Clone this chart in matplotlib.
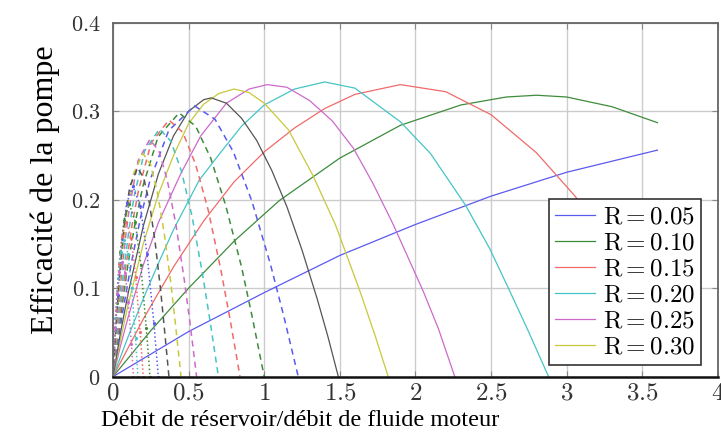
import matplotlib
matplotlib.use("Agg")
from matplotlib import pyplot as plt

plt.rcParams['mathtext.fontset'] = 'cm'

# solid curves, R = 0.05 ... 0.35
x_r05 = [0, 0.5, 1.0, 1.5, 2.0, 2.5, 3.0, 3.6]
y_r05 = [0, 0.051, 0.095, 0.137, 0.172, 0.204, 0.231, 0.256]

x_r10 = [0, 0.25, 0.5, 0.8, 1.1, 1.5, 1.9, 2.3, 2.6, 2.8, 3.0, 3.3, 3.6]
y_r10 = [0, 0.052, 0.100, 0.153, 0.199, 0.247, 0.284, 0.307, 0.316, 0.318, 0.316, 0.305, 0.287]

x_r15 = [0, 0.2, 0.4, 0.6, 0.8, 1.0, 1.2, 1.4, 1.6, 1.9, 2.2, 2.5, 2.8, 3.05, 3.3, 3.5, 3.7]
y_r15 = [0, 0.065, 0.124, 0.176, 0.220, 0.254, 0.281, 0.303, 0.319, 0.330, 0.322, 0.296, 0.253, 0.205, 0.150, 0.096, 0.040]

x_r20 = [0, 0.1, 0.2, 0.3, 0.4, 0.57, 0.71, 0.85, 1.0, 1.2, 1.4, 1.6, 1.9, 2.1, 2.33, 2.49, 2.62, 2.75, 2.88]
y_r20 = [0, 0.045, 0.088, 0.128, 0.166, 0.222, 0.253, 0.283, 0.307, 0.325, 0.333, 0.326, 0.288, 0.252, 0.194, 0.145, 0.098, 0.050, 0]

x_r25 = [0, 0.05, 0.1, 0.2, 0.3, 0.45, 0.58, 0.75, 0.9, 1.02, 1.15, 1.3, 1.45, 1.59, 1.72, 1.85, 1.95, 2.05, 2.15, 2.26]
y_r25 = [0, 0.035, 0.067, 0.126, 0.174, 0.230, 0.272, 0.309, 0.325, 0.330, 0.327, 0.312, 0.289, 0.258, 0.218, 0.173, 0.135, 0.097, 0.055, 0]

x_r30 = [0, 0.05, 0.1, 0.2, 0.3, 0.4, 0.5, 0.6, 0.7, 0.8, 0.9, 1.0, 1.16, 1.32, 1.47, 1.63, 1.73, 1.82]
y_r30 = [0, 0.042, 0.081, 0.150, 0.206, 0.250, 0.286, 0.308, 0.320, 0.325, 0.321, 0.309, 0.279, 0.228, 0.172, 0.098, 0.048, 0]

x_r35 = [0, 0.05, 0.1, 0.2, 0.3, 0.4, 0.5, 0.6, 0.65, 0.75, 0.85, 0.95, 1.05, 1.15, 1.25, 1.35, 1.42, 1.49]
y_r35 = [0, 0.050, 0.094, 0.170, 0.229, 0.272, 0.300, 0.313, 0.315, 0.309, 0.292, 0.267, 0.233, 0.192, 0.143, 0.088, 0.046, 0]

# dashed curves, R = 0.40 ... 0.70
x_r40 = [0, 0.061, 0.123, 0.184, 0.245, 0.368, 0.539, 0.674, 0.796, 0.919, 1.041, 1.127, 1.225]
y_r40 = [0, 0.070, 0.130, 0.181, 0.222, 0.278, 0.306, 0.291, 0.254, 0.198, 0.127, 0.070, 0]

x_r45 = [0, 0.050, 0.099, 0.149, 0.199, 0.298, 0.437, 0.547, 0.646, 0.746, 0.850, 0.920, 1.0]
y_r45 = [0, 0.068, 0.127, 0.176, 0.216, 0.271, 0.298, 0.283, 0.247, 0.193, 0.124, 0.068, 0]

x_r50 = [0, 0.042, 0.084, 0.126, 0.168, 0.252, 0.370, 0.462, 0.546, 0.630, 0.714, 0.773, 0.84]
y_r50 = [0, 0.066, 0.124, 0.171, 0.210, 0.264, 0.290, 0.276, 0.240, 0.188, 0.120, 0.066, 0]

x_r55 = [0, 0.035, 0.070, 0.105, 0.139, 0.209, 0.307, 0.383, 0.453, 0.523, 0.592, 0.641, 0.697]
y_r55 = [0, 0.064, 0.119, 0.165, 0.203, 0.255, 0.280, 0.266, 0.232, 0.181, 0.116, 0.064, 0]

x_r60 = [0, 0.028, 0.055, 0.083, 0.111, 0.166, 0.243, 0.304, 0.359, 0.415, 0.470, 0.509, 0.553]
y_r60 = [0, 0.061, 0.114, 0.158, 0.194, 0.244, 0.268, 0.255, 0.222, 0.173, 0.111, 0.061, 0]

x_r65 = [0, 0.023, 0.045, 0.068, 0.090, 0.135, 0.198, 0.248, 0.293, 0.338, 0.383, 0.414, 0.45]
y_r65 = [0, 0.058, 0.107, 0.149, 0.183, 0.229, 0.252, 0.240, 0.209, 0.163, 0.105, 0.058, 0]

x_r70 = [0, 0.019, 0.037, 0.056, 0.074, 0.111, 0.163, 0.204, 0.241, 0.278, 0.315, 0.340, 0.37]
y_r70 = [0, 0.054, 0.101, 0.139, 0.171, 0.215, 0.236, 0.224, 0.196, 0.153, 0.098, 0.054, 0]

# dotted curves, R = 0.75 ... 0.95
x_r75 = [0, 0.03, 0.06, 0.09, 0.132, 0.18, 0.225, 0.27, 0.30]
y_r75 = [0, 0.092, 0.156, 0.196, 0.215, 0.193, 0.139, 0.061, 0]

x_r80 = [0, 0.0245, 0.049, 0.0735, 0.108, 0.147, 0.184, 0.22, 0.245]
y_r80 = [0, 0.083, 0.141, 0.177, 0.195, 0.175, 0.126, 0.055, 0]

x_r85 = [0, 0.02, 0.04, 0.06, 0.088, 0.12, 0.15, 0.18, 0.20]
y_r85 = [0, 0.075, 0.127, 0.159, 0.175, 0.157, 0.113, 0.050, 0]

x_r90 = [0, 0.0165, 0.033, 0.05, 0.073, 0.099, 0.124, 0.149, 0.165]
y_r90 = [0, 0.066, 0.112, 0.141, 0.155, 0.139, 0.100, 0.044, 0]

x_r95 = [0, 0.0135, 0.027, 0.04, 0.059, 0.081, 0.101, 0.122, 0.135]
y_r95 = [0, 0.055, 0.094, 0.118, 0.130, 0.117, 0.084, 0.037, 0]

legend_labels = ['R = 0.05', 'R = 0.10', 'R = 0.15', 'R = 0.20', 'R = 0.25', 'R = 0.30']
xticks = [0, 0.5, 1, 1.5, 2, 2.5, 3, 3.5, 4]
xtick_labels = ['0', '0.5', '1', '1.5', '2', '2.5', '3', '3.5', '4']
yticks = [0, 0.1, 0.2, 0.3, 0.4]
ytick_labels = ['0', '0.1', '0.2', '0.3', '0.4']

colors = ['#5a5af0', '#3c8c3c', '#f06a6a', '#46c4c4', '#cc6acc', '#c8c83c', '#555555']

fig = plt.figure(figsize=(7.21, 4.47), dpi=100)
ax = fig.add_axes([0.1567, 0.1573, 0.8391, 0.792])

solid = [(x_r05, y_r05), (x_r10, y_r10), (x_r15, y_r15), (x_r20, y_r20),
         (x_r25, y_r25), (x_r30, y_r30), (x_r35, y_r35)]
dashed = [(x_r40, y_r40), (x_r45, y_r45), (x_r50, y_r50), (x_r55, y_r55),
          (x_r60, y_r60), (x_r65, y_r65), (x_r70, y_r70)]
dotted = [(x_r75, y_r75), (x_r80, y_r80), (x_r85, y_r85), (x_r90, y_r90), (x_r95, y_r95)]

handles = []
for i, (x, y) in enumerate(solid):
    ln, = ax.plot(x, y, color=colors[i], lw=0.9)
    handles.append(ln)
for i, (x, y) in enumerate(dashed):
    ax.plot(x, y, color=colors[i], lw=1.1, dashes=(4, 3))
for i, (x, y) in enumerate(dotted):
    ax.plot(x, y, color=colors[i], lw=1.1, ls=':', marker='.', markersize=2.5)

ax.set_xlim(0, 4)
ax.set_ylim(0, 0.4)
ax.set_xticks(xticks)
ax.set_xticklabels(['$' + t + '$' for t in xtick_labels], fontsize=18, color='#333333')
ax.set_yticks(yticks)
ax.set_yticklabels(['$' + t + '$' for t in ytick_labels], fontsize=16, color='#333333')
ax.tick_params(direction='in', length=4, color='#888888', top=True, right=True)
ax.tick_params(axis='x', pad=3)
ax.tick_params(axis='y', pad=9)
ax.grid(True, color='#cccccc', lw=1)
ax.set_axisbelow(True)
for s in ['top', 'right', 'left']:
    ax.spines[s].set_color('#666666')
    ax.spines[s].set_linewidth(1.3)
ax.spines['bottom'].set_color('#111111')
ax.spines['bottom'].set_linewidth(1.8)

leg = ax.legend(handles[:6], ['$\\mathrm{' + l.split(' = ')[0] + '} = ' + l.split(' = ')[1] + '$' for l in legend_labels],
                loc='lower right', bbox_to_anchor=(0.972, 0.033), borderaxespad=0,
                fontsize=18, fancybox=False, framealpha=1, edgecolor='#333333',
                handlelength=1.6, handletextpad=0.3, labelspacing=0.08, borderpad=0.25)
leg.get_frame().set_linewidth(1.2)

fig.text(300 / 721, 1 - 420 / 447, 'Débit de réservoir/débit de fluide moteur',
         family='Liberation Serif', fontsize=17.5, ha='center', va='center')
fig.text(45 / 721, 1 - 190 / 447, 'Efficacité de la pompe',
         family='Liberation Serif', fontsize=23, rotation=90, ha='center', va='center')

fig.savefig('out.png', dpi=100)
